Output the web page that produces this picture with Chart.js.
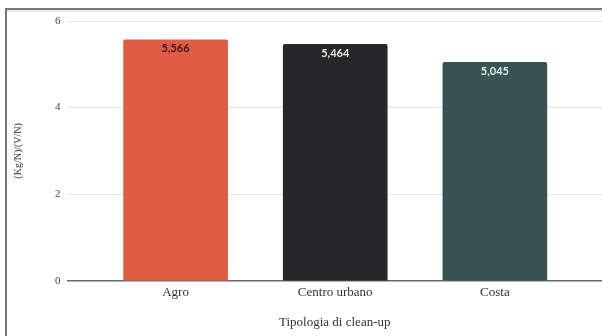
<!DOCTYPE html>
<html>
<head>
<meta charset="utf-8">
<script src="https://cdn.jsdelivr.net/npm/chart.js@4/dist/chart.umd.min.js"></script>
<style>
  html, body { margin: 0; padding: 0; background: #fff; }
  #wrap { position: relative; width: 602px; height: 336px; overflow: hidden; }
  #frame {
    position: absolute; left: 5px; top: 8px; right: -4px; bottom: -4px;
    border-left: 2px solid #767676; border-top: 2px solid #767676;
    box-shadow: inset 0 2px 0 #ececec;
  }
  canvas { position: absolute; left: 0; top: 0; }
</style>
</head>
<body>
<div id="wrap">
  <div id="frame"></div>
  <canvas id="c" width="602" height="336"></canvas>
</div>
<script>
// Tipologia di clean-up -> (Kg/N)/(V/N)
const categories = ['Agro', 'Centro urbano', 'Costa'];
const values = [5.566, 5.464, 5.045];
const barColors = ['#DF5B44', '#27272A', '#375453'];
const valueLabelColors = ['#3a1c16', '#e6e6e6', '#e0ebea'];
const yTicks = [0, 2, 4, 6];

const fmt = v => v.toFixed(3).replace('.', ',');

// Writes each value inside the top of its bar
const valueLabels = {
  id: 'valueLabels',
  afterDatasetsDraw(chart) {
    const ctx = chart.ctx;
    const meta = chart.getDatasetMeta(0);
    ctx.save();
    ctx.font = 'bold 11px Lato, "Open Sans", sans-serif';
    ctx.textAlign = 'center';
    ctx.textBaseline = 'middle';
    meta.data.forEach((bar, i) => {
      ctx.fillStyle = valueLabelColors[i];
      ctx.fillText(fmt(values[i]), bar.x, bar.y + 9);
    });
    ctx.restore();
  }
};

new Chart(document.getElementById('c'), {
  type: 'bar',
  data: {
    datasets: [{
      data: values.map((v, i) => ({ x: i, y: v })),
      backgroundColor: barColors,
      borderRadius: { topLeft: 2, topRight: 2 },
      borderSkipped: 'bottom',
      barThickness: 104
    }]
  },
  options: {
    responsive: false,
    animation: false,
    devicePixelRatio: 1,
    layout: { padding: { left: 12, right: 0, top: 21, bottom: 6 } },
    plugins: { legend: { display: false }, tooltip: { enabled: false } },
    scales: {
      x: {
        type: 'linear',
        offset: false,
        min: -0.677,
        max: 2.671,
        afterBuildTicks: axis => { axis.ticks = categories.map((c, i) => ({ value: i })); },
        ticks: {
          callback: v => categories[v],
          font: { family: '"Liberation Serif", "Times New Roman", serif', size: 13 },
          color: '#333',
          padding: 4,
          maxRotation: 0,
          autoSkip: false
        },
        grid: { display: false, drawTicks: false },
        border: { display: true, color: '#6a6a6a', width: 1.5 },
        title: {
          display: true,
          text: 'Tipologia di clean-up',
          font: { family: '"Liberation Serif", "Times New Roman", serif', size: 13 },
          color: '#333',
          padding: { top: 10, bottom: 0 }
        }
      },
      y: {
        min: 0,
        max: 6,
        afterBuildTicks: axis => { axis.ticks = yTicks.map(v => ({ value: v })); },
        ticks: {
          font: { family: '"Liberation Serif", "Times New Roman", serif', size: 11 },
          color: '#444',
          padding: 7
        },
        grid: { color: '#e4e4e4', lineWidth: 1, drawTicks: false },
        border: { display: false },
        title: {
          display: true,
          text: '(Kg/N)/(V/N)',
          font: { family: '"Liberation Serif", "Times New Roman", serif', size: 10 },
          color: '#333',
          padding: { top: 0, bottom: 24 }
        }
      }
    }
  },
  plugins: [valueLabels]
});
</script>
</body>
</html>
